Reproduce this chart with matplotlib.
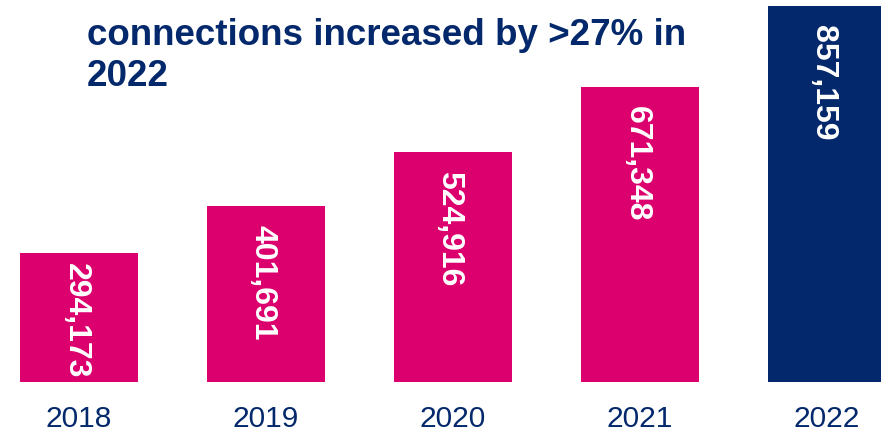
import matplotlib
matplotlib.use("Agg")
import matplotlib.pyplot as plt

years = ["2018", "2019", "2020", "2021", "2022"]
connections = [294173, 401691, 524916, 671348, 857159]
colors = ["#DC006E", "#DC006E", "#DC006E", "#DC006E", "#03286B"]

NAVY = "#03286B"
W, H = 881, 434
plt.rcParams["font.family"] = ["Liberation Sans", "DejaVu Sans"]

fig = plt.figure(figsize=(W / 100, H / 100), dpi=100)

# axes bottom sits at y=381.7 px, top of figure is the 2022 bar + 6 px
base_px = 381.7
ax = fig.add_axes([0, (H - base_px) / H, 1, base_px / H])
ymax = connections[-1] * base_px / (base_px - 6)
ax.set_ylim(0, ymax)
ax.set_xlim(-79 / 187, (W - 79) / 187)
ax.axis("off")

x = list(range(len(years)))
ax.bar(x, connections, width=118 / 187, color=colors)

px = ymax / base_px
for xi, v in zip(x, connections):
    bar_h = v / px
    off = min(19, bar_h - 119)
    # rotated bbox carries the descent on its left side, nudge back ~3 px
    ax.text(xi - 3.5 / 187, v - off * px, f"{v:,}", rotation=-90, ha="center", va="top",
            color="white", fontsize=23, fontweight="bold")
    ax.text(xi, -(427 - base_px) / base_px, years[xi],
            transform=ax.get_xaxis_transform(), ha="center", va="baseline",
            color=NAVY, fontsize=21.5, clip_on=False)

fig.text(87 / W, 1 - 45 / H, "connections increased by >27% in",
         fontsize=26.5, fontweight="bold", color=NAVY, ha="left", va="baseline")
fig.text(87 / W, 1 - 86 / H, "2022",
         fontsize=26.5, fontweight="bold", color=NAVY, ha="left", va="baseline")

fig.savefig("out.png", dpi=100)
